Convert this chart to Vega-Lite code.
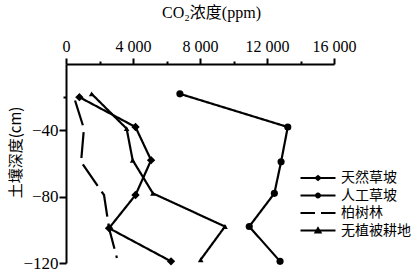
{
  "$schema": "https://vega.github.io/schema/vega-lite/v6.json",
  "autosize": {"type": "none"},
  "padding": {"left": 66, "top": 64, "right": 84, "bottom": 11},
  "width": 268,
  "height": 199,
  "background": "white",
  "config": {"view": {"stroke": null}},
  "data": {"values": [
    {"series": "天然草坡", "conc": 800, "depth": -20},
    {"series": "天然草坡", "conc": 4150, "depth": -38},
    {"series": "天然草坡", "conc": 5080, "depth": -58},
    {"series": "天然草坡", "conc": 4150, "depth": -79},
    {"series": "天然草坡", "conc": 2570, "depth": -99},
    {"series": "天然草坡", "conc": 6270, "depth": -119},
    {"series": "人工草坡", "conc": 6800, "depth": -18},
    {"series": "人工草坡", "conc": 13240, "depth": -38},
    {"series": "人工草坡", "conc": 12840, "depth": -59},
    {"series": "人工草坡", "conc": 12440, "depth": -78},
    {"series": "人工草坡", "conc": 10940, "depth": -98},
    {"series": "人工草坡", "conc": 12780, "depth": -119},
    {"series": "柏树林", "conc": 540, "depth": -22},
    {"series": "柏树林", "conc": 1070, "depth": -39},
    {"series": "柏树林", "conc": 900, "depth": -59},
    {"series": "柏树林", "conc": 2270, "depth": -79},
    {"series": "柏树林", "conc": 2570, "depth": -99},
    {"series": "柏树林", "conc": 3040, "depth": -117},
    {"series": "无植被耕地", "conc": 1530, "depth": -18},
    {"series": "无植被耕地", "conc": 3620, "depth": -39},
    {"series": "无植被耕地", "conc": 3980, "depth": -58},
    {"series": "无植被耕地", "conc": 5190, "depth": -78},
    {"series": "无植被耕地", "conc": 9490, "depth": -98},
    {"series": "无植被耕地", "conc": 8040, "depth": -118}
  ]},
  "encoding": {
    "x": {
      "field": "conc", "type": "quantitative",
      "scale": {"domain": [0, 16000], "nice": false, "zero": false},
      "axis": {
        "orient": "top",
        "values": [0, 2000, 4000, 6000, 8000, 10000, 12000, 14000, 16000],
        "labelExpr": "datum.value % 4000 === 0 ? replace(format(datum.value, ','), ',', ' ') : ''",
        "tickSize": {"condition": {"test": "datum.value % 4000 === 0", "value": 6}, "value": 3},
        "grid": false,
        "labelFont": "Liberation Serif",
        "labelFontSize": 16,
        "labelColor": "black",
        "labelPadding": 4,
        "labelFlush": false,
        "labelOverlap": false,
        "domainColor": "black",
        "domainWidth": 2,
        "tickColor": "black",
        "tickWidth": 2,
        "title": "CO₂浓度(ppm)",
        "titleFont": "Liberation Serif, Noto Sans CJK SC",
        "titleFontSize": 16,
        "titleFontWeight": "normal",
        "titleColor": "black",
        "titleX": 145,
        "titleY": -52,
        "titleBaseline": "middle"
      }
    },
    "y": {
      "field": "depth", "type": "quantitative",
      "scale": {"domain": [-120, 0], "nice": false, "zero": false},
      "axis": {
        "orient": "left",
        "values": [-20, -40, -80, -120],
        "labelExpr": "datum.value === -20 ? '' : '\u2212' + format(-datum.value, 'd')",
        "tickSize": {"condition": {"test": "datum.value === -20", "value": 3}, "value": 7},
        "grid": false,
        "labelFont": "Liberation Serif",
        "labelFontSize": 17,
        "labelColor": "black",
        "labelPadding": 1,
        "labelOverlap": false,
        "labelFlush": false,
        "domainColor": "black",
        "domainWidth": 2,
        "tickColor": "black",
        "tickWidth": 2,
        "title": "土壤深度(cm)",
        "titleFont": "Noto Sans CJK SC",
        "titleFontSize": 15,
        "titleFontWeight": "normal",
        "titleColor": "black",
        "titleAngle": -90,
        "titleX": -51,
        "titleY": 88,
        "titleAlign": "center",
        "titleBaseline": "middle"
      }
    }
  },
  "resolve": {"scale": {"shape": "independent", "size": "independent"}, "legend": {"shape": "independent"}},
  "layer": [
    {
      "mark": {"type": "line", "color": "black", "strokeWidth": 2.2},
      "encoding": {
        "order": {"field": "depth", "sort": "descending"},
        "detail": {"field": "series"},
        "strokeDash": {
          "field": "series", "type": "nominal",
          "scale": {"domain": ["天然草坡", "人工草坡", "柏树林", "无植被耕地"], "range": [[1, 0], [1, 0], [26, 7], [1, 0]]},
          "legend": null
        }
      }
    },
    {
      "transform": [{"filter": "datum.series !== '柏树林'"}],
      "mark": {"type": "point", "filled": true, "color": "black", "opacity": 1},
      "encoding": {
        "shape": {
          "field": "series", "type": "nominal",
          "scale": {"domain": ["天然草坡", "人工草坡", "无植被耕地"], "range": ["diamond", "circle", "triangle-up"]},
          "legend": null
        },
        "size": {
          "field": "series", "type": "nominal",
          "scale": {"domain": ["天然草坡", "人工草坡", "无植被耕地"], "range": [70, 32, 70]},
          "legend": null
        }
      }
    },
    {
      "transform": [{"filter": "datum.depth > 0"}],
      "mark": {"type": "point", "filled": true, "color": "black", "opacity": 1},
      "encoding": {
        "shape": {
          "field": "series", "type": "nominal",
          "scale": {
            "domain": ["天然草坡", "人工草坡", "柏树林", "无植被耕地"],
            "range": [
              "M-3.5,-0.2H3.5V0.2H-3.5ZM-0.8,0L0,-0.65L0.8,0L0,0.65Z",
              "M-3.5,-0.2H3.5V0.2H-3.5ZM-0.6,0A0.6,0.6,0,1,1,0.6,0A0.6,0.6,0,1,1,-0.6,0Z",
              "M-3.5,-0.2H-0.6V0.2H-3.5ZM0.6,-0.2H3.5V0.2H0.6Z",
              "M-3.5,-0.2H3.5V0.2H-3.5ZM-0.85,0.6L0,-0.85L0.85,0.6Z"
            ]
          },
          "legend": {
            "orient": "none",
            "legendX": 245,
            "legendY": 107,
            "title": null,
            "padding": 0,
            "labelFont": "Noto Sans CJK SC",
            "labelFontSize": 14,
            "labelColor": "black",
            "labelOffset": 16,
            "rowPadding": 3.5,
            "symbolSize": 100,
            "symbolStrokeWidth": 0,
            "symbolFillColor": "black",
            "symbolOpacity": 1
          }
        }
      }
    }
  ]
}
